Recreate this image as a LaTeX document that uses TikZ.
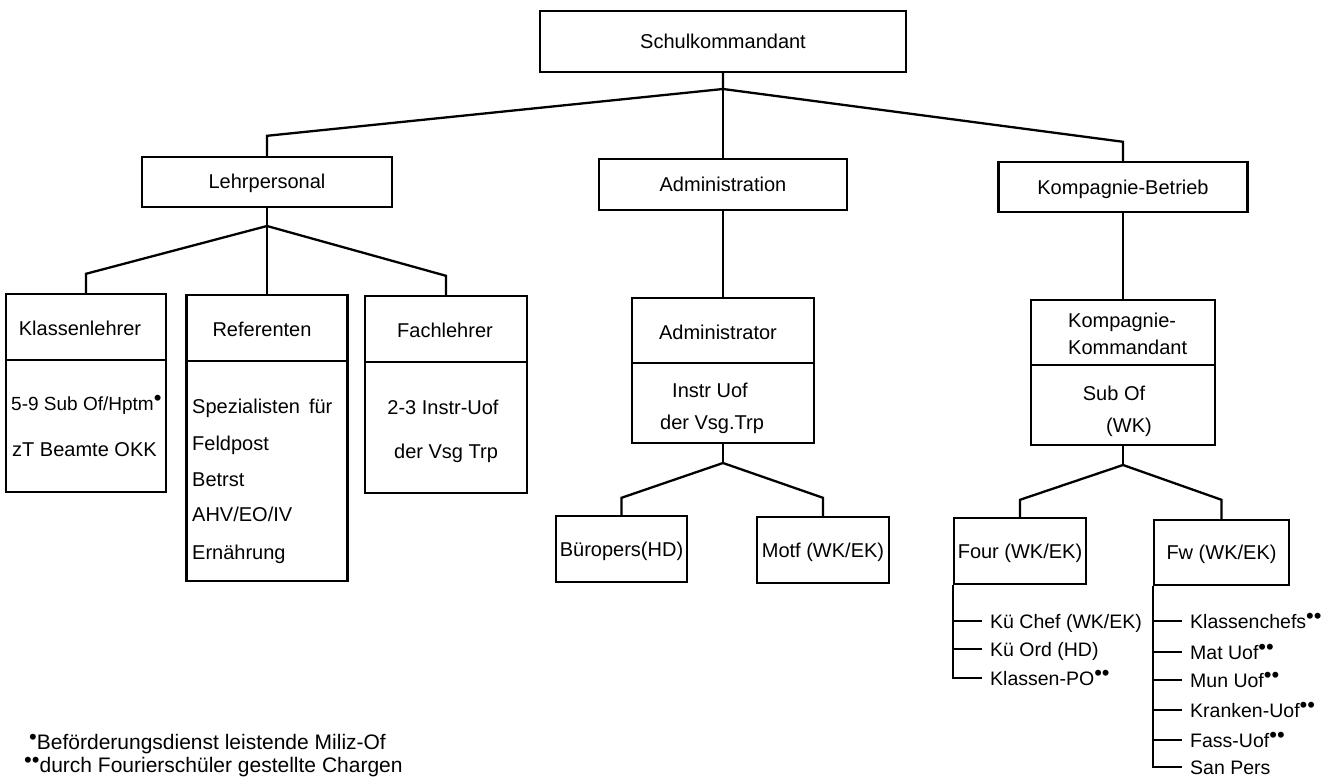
\documentclass[tikz,border=0pt]{standalone}
\usepackage{fontspec}
\setmainfont{Liberation Sans}
\newcommand\onedot{\raisebox{4.5pt}{\fontsize{22}{22}\selectfont •}}
\newcommand\twodots{\raisebox{4.5pt}{\fontsize{22}{22}\selectfont ••}}
\begin{document}
\begin{tikzpicture}[x=1pt,y=-1pt,
  box/.style={draw, line width=2.4pt, inner sep=0pt, font=\fontsize{20}{22}\selectfont, text height=14pt, text depth=0pt},
  conn/.style={line width=2.3pt},
  txt/.style={inner sep=0pt, font=\fontsize{20}{22}\selectfont, text height=14pt, text depth=0pt},
  item/.style={txt, anchor=west, font=\fontsize{19.5}{21}\selectfont}]
\useasboundingbox (0,0) rectangle (1335,778);

% top level
\node[box, minimum width=366pt, minimum height=61pt] (sk) at (723,41.5) {Schulkommandant};
\node[box, minimum width=250pt, minimum height=50pt] (lp) at (267,182) {Lehrpersonal};
\node[box, minimum width=248pt, minimum height=51pt] (ad) at (723,184.5) {Administration};
\node[box, minimum width=249pt, minimum height=50pt] (kb) at (1123,187) {Kompagnie-Betrieb};

\coordinate (j0) at (723,89);
\draw[conn] (sk.south) -- (j0) -- ([yshift=20pt]lp.north) -- (lp.north);
\draw[conn] (j0) -- (ad.north);
\draw[conn] (j0) -- ([yshift=19pt]kb.north) -- (kb.north);

% Lehrpersonal
\node[box, minimum width=160pt, minimum height=198pt] (kl) at (86,393) {};
\draw[conn] (kl.west |- 0,360) -- (kl.east |- 0,360);
\node[txt] (klh) at (80,328) {Klassenlehrer};
\node[txt, anchor=west, font=\fontsize{19}{21}\selectfont] (kl1) at (11,403) {5-9 Sub Of/Hptm\onedot};
\node[txt, anchor=west] (kl2) at (12,449) {zT Beamte OKK};

\node[box, minimum width=161pt, minimum height=286pt] (rf) at (267,438) {};
\draw[conn] (rf.west |- 0,361) -- (rf.east |- 0,361);
\node[txt] (rfh) at (262,329) {Referenten};
\node[txt, anchor=west] (rf1) at (192,406) {Spezialisten\hspace{9pt}für};
\node[txt, anchor=west] (rf2) at (192,443) {Feldpost};
\node[txt, anchor=west] (rf3) at (192,479) {Betrst};
\node[txt, anchor=west] (rf4) at (192,514) {AHV/EO/IV};
\node[txt, anchor=west] (rf5) at (192,552) {Ernährung};

\node[box, minimum width=162pt, minimum height=197pt] (fl) at (446,394.5) {};
\draw[conn] (fl.west |- 0,362) -- (fl.east |- 0,362);
\node[txt] (flh) at (445,330) {Fachlehrer};
\node[txt] (fl1) at (443,407) {2-3 Instr-Uof};
\node[txt] (fl2) at (446,451) {der Vsg Trp};

\coordinate (j1) at (267,226);
\draw[conn] (lp.south) -- (rf.north);
\draw[conn] (j1) -- ([yshift=19pt]kl.north) -- (kl.north);
\draw[conn] (j1) -- ([yshift=19pt]fl.north) -- (fl.north);

% Administration
\node[box, minimum width=182pt, minimum height=145pt] (am) at (723,370.5) {};
\draw[conn] (am.west |- 0,363) -- (am.east |- 0,363);
\node[txt] (amh) at (718,332) {Administrator};
\node[txt] (am1) at (710,390) {Instr Uof};
\node[txt] (am2) at (712,422) {der Vsg.Trp};
\draw[conn] (ad.south) -- (am.north);

\node[box, minimum width=131pt, minimum height=66pt] (bp) at (621.5,549) {Büropers(HD)};
\node[box, minimum width=132pt, minimum height=66pt] (mf) at (823,550) {Motf (WK/EK)};
\coordinate (j2) at (723,463);
\draw[conn] (am.south) -- (j2);
\draw[conn] (j2) -- ([yshift=17pt]bp.north) -- (bp.north);
\draw[conn] (j2) -- ([yshift=18pt]mf.north) -- (mf.north);

% Kompagnie-Betrieb
\node[box, minimum width=184pt, minimum height=145pt] (kk) at (1123,372.5) {};
\draw[conn] (kk.west |- 0,365) -- (kk.east |- 0,365);
\node[txt, anchor=west] (kkh1) at (1068,320) {Kompagnie-};
\node[txt, anchor=west] (kkh2) at (1068,347) {Kommandant};
\node[txt] (kk1) at (1114,393) {Sub Of};
\node[txt] (kk2) at (1129,425) {(WK)};
\draw[conn] (kb.south) -- (kk.north);

\node[box, minimum width=132pt, minimum height=66pt] (fo) at (1020,551) {Four (WK/EK)};
\node[box, minimum width=135pt, minimum height=65pt] (fw) at (1221.5,552.5) {Fw (WK/EK)};
\coordinate (j3) at (1123,465);
\draw[conn] (kk.south) -- (j3);
\draw[conn] (j3) -- ([yshift=17pt]fo.north) -- (fo.north);
\draw[conn] (j3) -- ([yshift=19pt]fw.north) -- (fw.north);

% Four list
\node[item] (f1) at (990,621) {Kü Chef (WK/EK)};
\node[item] (f2) at (990,649) {Kü Ord (HD)};
\node[item] (f3) at (990,678) {Klassen-PO\twodots};
\draw[conn] (fo.south west) |- ([xshift=-8pt]f3.west);
\draw[conn] ([xshift=-8pt]f1.west) -- (fo.west |- f1.west);
\draw[conn] ([xshift=-8pt]f2.west) -- (fo.west |- f2.west);

% Fw list
\node[item] (w1) at (1190,621) {Klassenchefs\twodots};
\node[item] (w2) at (1190,652) {Mat Uof\twodots};
\node[item] (w3) at (1190,680) {Mun Uof\twodots};
\node[item] (w4) at (1190,710) {Kranken-Uof\twodots};
\node[item] (w5) at (1190,740) {Fass-Uof\twodots};
\node[item] (w6) at (1190,767) {San Pers};
\draw[conn] (fw.south west) |- ([xshift=-8pt]w6.west);
\draw[conn] ([xshift=-8pt]w1.west) -- (fw.west |- w1.west);
\draw[conn] ([xshift=-8pt]w2.west) -- (fw.west |- w2.west);
\draw[conn] ([xshift=-8pt]w3.west) -- (fw.west |- w3.west);
\draw[conn] ([xshift=-8pt]w4.west) -- (fw.west |- w4.west);
\draw[conn] ([xshift=-8pt]w5.west) -- (fw.west |- w5.west);

% footnotes
\node[txt, anchor=west, font=\fontsize{21}{23}\selectfont] (fn1) at (29,742) {\onedot Beförderungsdienst leistende Miliz-Of};
\node[txt, anchor=west, font=\fontsize{21}{23}\selectfont] (fn2) at (24,765) {\twodots durch Fourierschüler gestellte Chargen};
\end{tikzpicture}
\end{document}
